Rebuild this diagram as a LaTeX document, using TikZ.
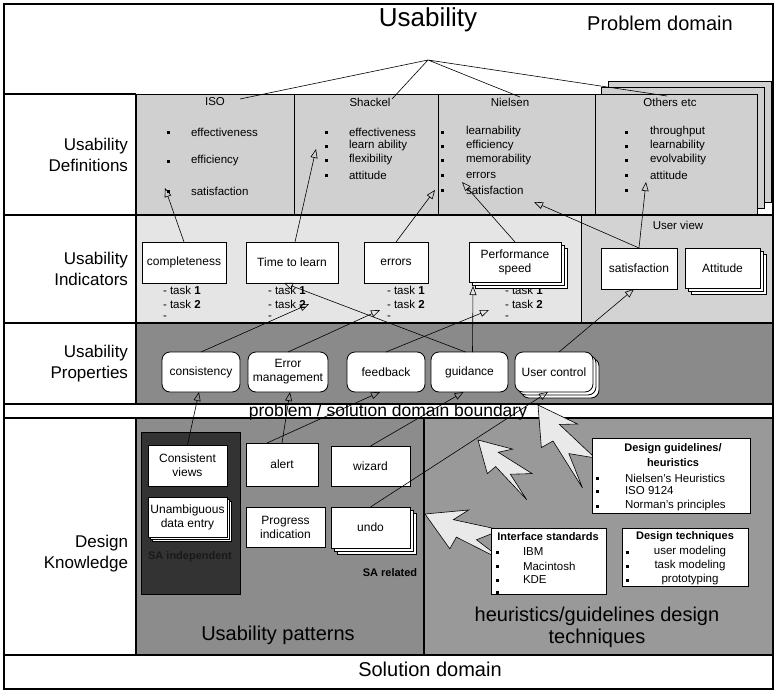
\documentclass[tikz,border=0pt]{standalone}
\usepackage{fontspec}
\setmainfont{Liberation Sans}
\usetikzlibrary{arrows.meta,calc}
\definecolor{defgray}{RGB}{208,208,208}
\definecolor{indgray}{RGB}{229,229,229}
\definecolor{uvgray}{RGB}{211,211,211}
\definecolor{propgray}{RGB}{138,138,138}
\definecolor{patgray}{RGB}{140,140,140}
\definecolor{heurgray}{RGB}{153,153,153}
\definecolor{sagray}{RGB}{51,51,51}
\definecolor{boltgray}{RGB}{233,233,233}
\newcommand{\boltarrow}[4]{%
  \begin{scope}[shift={(#1,#2)},rotate=#3,scale=#4]
    \draw[bolt] (0,0) -- (36,-17) -- (26,-4) -- (70,-10) -- (52,6) -- (84,16) -- (34,10) -- (32,22) -- cycle;
  \end{scope}}
\newcommand{\stackrects}[5]{% x1 y1 x2 y2 corner
  \draw[fill=white,line width=0.8pt,rounded corners=#5] (#1+6,#2+6) rectangle (#3+6,#4+6);
  \draw[fill=white,line width=0.8pt,rounded corners=#5] (#1+3,#2+3) rectangle (#3+3,#4+3);}
\begin{document}
\begin{tikzpicture}[x=1pt,y=-1pt,
  every node/.style={inner sep=0pt,outer sep=0pt},
  sm/.style={font=\fontsize{11.5}{13.5}\selectfont},
  smb/.style={font=\fontsize{11}{15}\selectfont\bfseries},
  lbl/.style={font=\fontsize{17}{21}\selectfont,align=right,anchor=east},
  big/.style={font=\fontsize{20}{22}\selectfont,align=center},
  wbox/.style={draw,fill=white,line width=0.8pt,font=\fontsize{12}{14}\selectfont,align=center},
  rbox/.style={wbox,rounded corners=8pt},
  conn/.style={line width=0.6pt,-{Triangle[open,length=9pt,width=7pt]}},
  thinline/.style={line width=0.6pt},
  frame/.style={line width=1.2pt},
  bul/.style={fill=black,minimum size=3pt,inner sep=0pt},
  bolt/.style={fill=boltgray,draw=black,line width=0.6pt,line join=miter}
]
\useasboundingbox (0,0) rectangle (782,693);
\fill[white] (0,0) rectangle (782,693);

% ---- region fills
\fill[indgray] (136,215) rectangle (581,323);
\fill[uvgray] (581,215) rectangle (773,323);
\fill[propgray] (136,323) rectangle (773,404);
\fill[patgray] (136,418) rectangle (424,655);
\fill[heurgray] (424,418) rectangle (773,655);

% ---- definitions row
\draw[fill=defgray,line width=0.8pt] (608,81) rectangle (771,202);
\draw[fill=defgray,line width=0.8pt] (601,87) rectangle (764,208);
\draw[fill=defgray,line width=1pt] (136,94) rectangle (757,215);
\draw[line width=1pt] (294,94) -- (294,215) (438,94) -- (438,215) (595,94) -- (595,215);

% ---- structure lines
\draw[frame] (4,94) -- (136,94);
\draw[frame] (4,215) -- (773,215);
\draw[frame] (4,323) -- (773,323);
\draw[frame] (4,404) -- (773,404);
\draw[frame] (4,418) -- (773,418);
\draw[frame] (4,655) -- (773,655);
\draw[frame] (136,94) -- (136,404) (136,418) -- (136,655);
\draw[line width=1pt] (581,215) -- (581,323);
\draw[line width=2pt] (424,418) -- (424,655);
\draw[frame] (4,4) rectangle (773,689);

% ---- top texts
\node[font=\fontsize{26}{30}\selectfont] (title) at (428,20) {Usability};
\node[font=\fontsize{20}{24}\selectfont] (pdom) at (660,23) {Problem domain};
\coordinate (hub) at (428,60);
\coordinate (isoTop) at (240,99);
\coordinate (shaTop) at (392,99);
\coordinate (nieTop) at (520,97);
\coordinate (othTop) at (667,96);

% ---- left labels
\node[lbl] (lDef) at (128,154.5) {Usability\\Definitions};
\node[lbl] (lInd) at (128,269) {Usability\\Indicators};
\node[lbl] (lProp) at (128,363.5) {Usability\\Properties};
\node[lbl] (lKnow) at (128,554) {Design\\Knowledge};

% ---- definitions content
\node[sm] (isoT) at (215,102) {ISO};
\node[sm] (shaT) at (370,102) {Shackel};
\node[sm] (nieT) at (510,102) {Nielsen};
\node[sm] (othT) at (670,102) {Others etc};
\foreach \y/\t [count=\i] in {132/effectiveness,161/efficiency,191/satisfaction} {
  \node[bul] (isoB\i) at (168,\y) {};
  \node[sm,anchor=west] (isoI\i) at (191,\y) {\t};
}
\foreach \y/\t [count=\i] in {132/effectiveness,146/learn ability,160/flexibility,175/attitude} {
  \node[bul] (shaB\i) at (326,\y) {};
  \node[sm,anchor=west] (shaI\i) at (349,\y) {\t};
}
\foreach \y/\t [count=\i] in {132/learnability,146/efficiency,160/memorability,175/errors,190/satisfaction} {
  \node[bul] (nieB\i) at (442,\y) {};
  \node[sm,anchor=west] (nieI\i) at (466,\y) {\t};
}
\foreach \y/\t [count=\i] in {132/throughput,146/learnability,160/evolvability,175/attitude} {
  \node[bul] (othB\i) at (626,\y) {};
  \node[sm,anchor=west] (othI\i) at (650,\y) {\t};
}
\node[bul] (othB5) at (626,190) {};
\coordinate (isoSat) at (165,188);
\coordinate (shaLearn) at (316,149);
\coordinate (nieSatB) at (435,190);
\coordinate (nieErr) at (462,182);
\coordinate (nieSat) at (534,202);
\coordinate (othAtt) at (646,182);

% ---- indicators
\node[sm] (uview) at (678,225) {User view};
\foreach \x/\n in {163/c,268/t,387/e,505/p} {
  \node[sm,anchor=west] (tkA\n) at (\x,290) {- task \textbf{1}};
  \node[sm,anchor=west] (tkB\n) at (\x,304) {- task \textbf{2}};
  \node[sm,anchor=west] (tkC\n) at (\x,318) {-};
}
\coordinate (ttlTask) at (309,304);
\coordinate (errTask) at (380,310);
\coordinate (perfTask) at (489,310);
\coordinate (perfBot) at (473,286);
\node[wbox,minimum width=84pt,minimum height=41pt] (comp) at (184,262.5) {completeness};
\node[wbox,minimum width=92pt,minimum height=41pt] (ttl) at (292,262.5) {Time to learn};
\node[wbox,minimum width=64pt,minimum height=41pt] (err) at (396,262.5) {errors};
\stackrects{469}{242}{561}{282}{0pt}
\node[wbox,minimum width=92pt,minimum height=40pt] (perf) at (515,262) {Performance\\speed};
\node[wbox,minimum width=76pt,minimum height=41pt] (sat) at (639,268.5) {satisfaction};
\stackrects{685}{248}{760}{288}{0pt}
\node[wbox,minimum width=75pt,minimum height=40pt] (att) at (722.5,268) {Attitude};

% ---- properties
\node[rbox,minimum width=78pt,minimum height=40pt] (cons) at (201,372) {consistency};
\node[rbox,minimum width=80pt,minimum height=40pt] (errm) at (288,372) {Error\\management};
\node[rbox,minimum width=78pt,minimum height=40pt] (fb) at (386,372) {feedback};
\node[rbox,minimum width=77pt,minimum height=40pt] (guid) at (469.5,372) {guidance};
\stackrects{515}{352}{593}{392}{8pt}
\node[rbox,minimum width=78pt,minimum height=40pt] (uc) at (554,372) {User control};

% ---- boundary
\node[font=\fontsize{17.5}{20}\selectfont,anchor=base] (bnd) at (388,416) {problem / solution domain boundary};

% ---- usability patterns
\draw[fill=sagray,line width=0.8pt] (141,432) rectangle (240,594);
\node[wbox,minimum width=79pt,minimum height=41pt] (cv) at (187.5,465.5) {Consistent\\views};
\draw[fill=white,line width=0.8pt] (152,501) rectangle (231,541);
\draw[fill=white,line width=0.8pt] (150,499) rectangle (229,539);
\node[wbox,minimum width=79pt,minimum height=40pt] (ude) at (187.5,517) {Unambiguous\\data entry};
\node[smb,text=black!90] (sai) at (190,557) {SA independent};
\node[wbox,minimum width=72pt,minimum height=43pt] (alert) at (282,464.5) {alert};
\node[wbox,minimum width=79pt,minimum height=40pt] (wiz) at (370.5,466) {wizard};
\node[wbox,minimum width=79pt,minimum height=40pt] (prog) at (285.5,527) {Progress\\indication};
\stackrects{331}{507}{410}{548}{0pt}
\node[wbox,minimum width=79pt,minimum height=41pt] (undo) at (370.5,527.5) {undo};
\node[smb] (sar) at (390,573) {SA related};
\node[big] (upat) at (278,635) {Usability patterns};

% ---- lightning arrows
\boltarrow{538}{405}{-51}{1.1}
\boltarrow{478}{440}{-40}{0.9}
\boltarrow{425}{514}{-20}{1.1}

% ---- heuristics boxes
\node[wbox,minimum width=158pt,minimum height=75pt] (dg) at (671,475.5) {};
\node[smb,align=center] (dgT) at (673,455.5) {Design guidelines/\\heuristics};
\foreach \y/\t [count=\i] in {478/Nielsen's Heuristics,491/ISO 9124,506/Norman's principles} {
  \node[bul] (dgB\i) at (597,\y) {};
  \node[sm,anchor=west] (dgI\i) at (625,\y) {\t};
}
\node[wbox,minimum width=115pt,minimum height=66pt] (ist) at (548.5,561) {};
\node[smb] (istT) at (548,537) {Interface standards};
\foreach \y/\t [count=\i] in {552/IBM,566/Macintosh,580/KDE} {
  \node[bul] (istB\i) at (497,\y) {};
  \node[sm,anchor=west] (istI\i) at (523,\y) {\t};
}
\node[bul] (istB4) at (497,592) {};
\node[wbox,minimum width=126pt,minimum height=58pt] (dt) at (685,557) {};
\node[smb] (dtT) at (685,537) {Design techniques};
\foreach \y/\t [count=\i] in {552/user modeling,566/task modeling,580/prototyping} {
  \node[bul] (dtB\i) at (627,\y) {};
  \node[sm] (dtI\i) at (690,\y) {\t};
}
\node[big] (hgd) at (597,627) {heuristics/guidelines design\\techniques};
\node[big] (sdom) at (430,669) {Solution domain};

% ---- connectors
\draw[thinline] (hub) -- (isoTop) (hub) -- (shaTop) (hub) -- (nieTop) (hub) -- (othTop);
\draw[conn] (comp.north) -- (isoSat);
\draw[conn] ([xshift=3pt]ttl.north) -- (shaLearn);
\draw[conn] (err.north) -- (nieSatB);
\draw[conn] (perf.north) -- (nieErr);
\draw[conn] (sat.north) -- (nieSat);
\draw[conn] (sat.north) -- (othAtt);
\draw[conn] (cons.north) -- (ttlTask);
\draw[conn] (errm.north) -- (errTask);
\draw[conn] (fb.north) -- (perfTask);
\draw[conn] ([xshift=3pt]guid.north) -- (perfBot);
\draw[conn] ([xshift=-4pt]guid.north) -- ([xshift=-8pt]ttl.south);
\draw[conn] ([xshift=5pt]uc.north) -- ([xshift=-5pt]sat.south);
\draw[conn] (cv.north) -- ([xshift=-2pt]cons.south);
\draw[conn] (alert.north) -- ([xshift=2pt]errm.south);
\draw[conn] ([xshift=-15pt]alert.north) -- ([xshift=-6pt]fb.south);
\draw[conn] (wiz.north) -- ([xshift=-6pt]guid.south);
\draw[conn] (undo.north) -- ([xshift=-6pt]uc.south);
\end{tikzpicture}
\end{document}
